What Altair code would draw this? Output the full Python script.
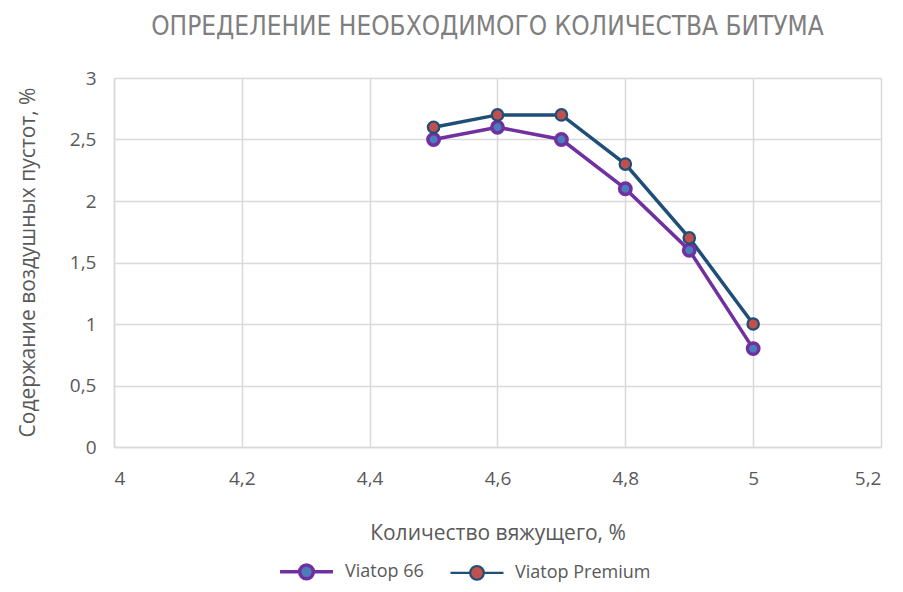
import altair as alt
import pandas as pd

binder = [4.5, 4.6, 4.7, 4.8, 4.9, 5.0]
viatop66 = [2.5, 2.6, 2.5, 2.1, 1.6, 0.8]
viatop_premium = [2.6, 2.7, 2.7, 2.3, 1.7, 1.0]
series_names = ["Viatop 66", "Viatop Premium"]
x_ticks = [4.0, 4.2, 4.4, 4.6, 4.8, 5.0, 5.2]
y_ticks = [0, 0.5, 1, 1.5, 2, 2.5, 3]

rows = []
for x, a, b in zip(binder, viatop66, viatop_premium):
    rows.append({"x": x, "y": a, "series": series_names[0]})
    rows.append({"x": x, "y": b, "series": series_names[1]})
df = pd.DataFrame(rows)

line_colors = ["#7030a0", "#1f4e79"]
fill_colors = ["#4a7ebb", "#c0504d"]
grey = "#595959"
font = "Open Sans"

sym = ("M -0.26,0 A 0.26,0.26 0 1,1 0.26,0 A 0.26,0.26 0 1,1 -0.26,0 Z "
       "M -1,0 L -0.26,0 M 0.26,0 L 1,0")

legend = alt.Legend(title=None, orient="none", direction="horizontal",
                    legendX=164, legendY=465,
                    symbolType=sym, symbolSize=2800, symbolStrokeWidth=3,
                    labelFontSize=18, labelColor=grey, labelFont=font,
                    columnPadding=22, labelOffset=10)

xenc = alt.X("x:Q", scale=alt.Scale(domain=[4, 5.2], nice=False, zero=False),
             axis=alt.Axis(values=x_ticks, title="Количество вяжущего, %",
                           labelExpr="replace(toString(round(datum.value*10)/10), '.', ',')",
                           labelPadding=22, titleY=86, titleBaseline="middle"))
yenc = alt.Y("y:Q", scale=alt.Scale(domain=[0, 3], nice=False),
             axis=alt.Axis(values=y_ticks, title="Содержание воздушных пустот, %",
                           labelExpr="replace(toString(datum.value), '.', ',')",
                           labelPadding=18, titleX=-86, titleY=184,
                           titleBaseline="middle", titleAngle=270))

stroke_scale = alt.Scale(domain=series_names, range=line_colors)
fill_scale = alt.Scale(domain=series_names, range=fill_colors)

lines = alt.Chart(df).mark_line(strokeWidth=3.5).encode(
    x=xenc, y=yenc,
    stroke=alt.Stroke("series:N", scale=stroke_scale, legend=legend),
)
points = alt.Chart(df).mark_point(filled=False, size=130, opacity=1).encode(
    x=xenc, y=yenc,
    stroke=alt.Stroke("series:N", scale=stroke_scale, legend=legend),
    fill=alt.Fill("series:N", scale=fill_scale, legend=legend),
    strokeWidth=alt.StrokeWidth("series:N", scale=alt.Scale(domain=series_names, range=[3.5, 2.2]), legend=None),
)

chart = (lines + points).properties(
    width=767, height=369,
    autosize=alt.AutoSizeParams(type="none"),
    padding={"left": 106, "top": 70, "right": 14, "bottom": 136},
    title=alt.TitleParams("ОПРЕДЕЛЕНИЕ НЕОБХОДИМОГО КОЛИЧЕСТВА БИТУМА",
                          font="DejaVu Sans Condensed", fontSize=26, fontWeight="normal",
                          color="#7f7f7f", offset=29, anchor="middle", dx=-10),
).configure_view(stroke=None).configure_axis(
    gridColor="#d9d9d9", gridWidth=1.5, domainColor="#d9d9d9", domainWidth=1.5,
    ticks=False, labelFont=font, labelFontSize=19, labelColor=grey,
    titleFont=font, titleFontSize=21, titleColor=grey, titleFontWeight="normal",
)

chart.save("out.html", embed_options={"renderer": "svg", "actions": False})
